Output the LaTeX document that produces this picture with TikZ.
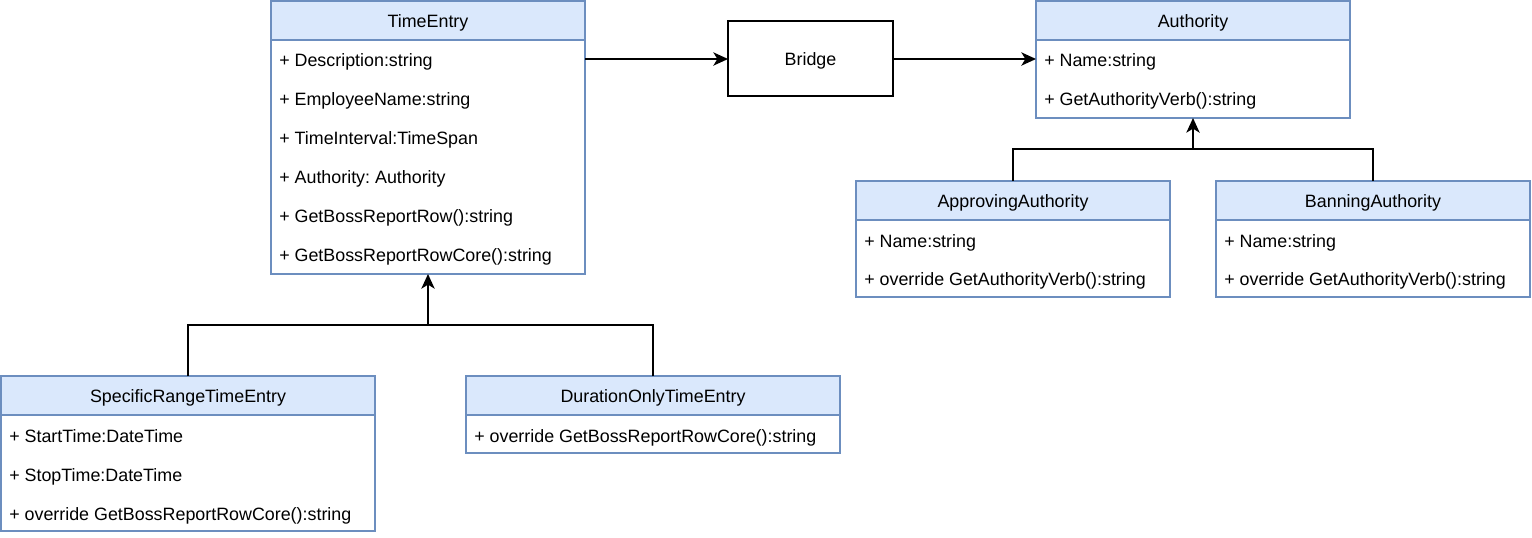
\documentclass[tikz,border=0pt]{standalone}
\usepackage{fontspec}
\setmainfont{Liberation Sans}
\usetikzlibrary{arrows.meta}
\definecolor{umlfill}{HTML}{DAE8FC}
\definecolor{umlline}{HTML}{6C8EBF}
\frenchspacing
\begin{document}
\begin{tikzpicture}[x=0.75pt,y=-0.75pt,
  every node/.style={font=\fontsize{13.4}{15}\selectfont, text height=13pt, text depth=2.5pt},
  hdr/.style={draw=umlline, line width=0.9pt, fill=umlfill, anchor=north west, inner sep=0pt, outer sep=0pt, minimum height=29.25pt},
  bodybox/.style={draw=umlline, line width=0.9pt, fill=white, anchor=north west, inner sep=0pt, outer sep=0pt},
  plainbox/.style={draw=black, line width=1pt, fill=white, anchor=north west, inner sep=0pt, outer sep=0pt},
  row/.style={anchor=west, inner sep=0pt},
  conn/.style={draw=black, line width=1.1pt, -{Stealth[length=11pt,width=10pt,inset=3pt]}},
  link/.style={draw=black, line width=1.1pt}]
\useasboundingbox (0,0) rectangle (1532,537);

% TimeEntry
\node[bodybox, minimum width=235.5pt, minimum height=175.5pt] (teb) at (271,40) {};
\node[hdr, minimum width=235.5pt] (te) at (271,1) {TimeEntry};
\node[row] (te1) at (279,59) {+ Description:string};
\node[row] (te2) at (279,98) {+ EmployeeName:string};
\node[row] (te3) at (279,137) {+ TimeInterval:TimeSpan};
\node[row] (te4) at (279,176) {+ Authority: Authority};
\node[row] (te5) at (279,215) {+ GetBossReportRow():string};
\node[row] (te6) at (279,254) {+ GetBossReportRowCore():string};

% Bridge
\node[plainbox, minimum width=123.75pt, minimum height=56.25pt] (br) at (728,21) {Bridge};

% Authority
\node[bodybox, minimum width=235.5pt, minimum height=58.5pt] (ab) at (1036,40) {};
\node[hdr, minimum width=235.5pt] (au) at (1036,1) {Authority};
\node[row] (au1) at (1044,59) {+ Name:string};
\node[row] (au2) at (1044,98) {+ GetAuthorityVerb():string};

% ApprovingAuthority
\node[bodybox, minimum width=235.5pt, minimum height=57.75pt] (aab) at (856,220) {};
\node[hdr, minimum width=235.5pt] (aa) at (856,181) {ApprovingAuthority};
\node[row] (aa1) at (864,240) {+ Name:string};
\node[row] (aa2) at (864,278) {+ override GetAuthorityVerb():string};

% BanningAuthority
\node[bodybox, minimum width=235.5pt, minimum height=57.75pt] (bab) at (1216,220) {};
\node[hdr, minimum width=235.5pt] (ba) at (1216,181) {BanningAuthority};
\node[row] (ba1) at (1224,240) {+ Name:string};
\node[row] (ba2) at (1224,278) {+ override GetAuthorityVerb():string};

% SpecificRangeTimeEntry
\node[bodybox, minimum width=280.5pt, minimum height=87pt] (srb) at (1,415) {};
\node[hdr, minimum width=280.5pt] (sr) at (1,376) {SpecificRangeTimeEntry};
\node[row] (sr1) at (9,435) {+ StartTime:DateTime};
\node[row] (sr2) at (9,474) {+ StopTime:DateTime};
\node[row] (sr3) at (9,513) {+ override GetBossReportRowCore():string};

% DurationOnlyTimeEntry
\node[bodybox, minimum width=280.5pt, minimum height=28.5pt] (dob) at (466,415) {};
\node[hdr, minimum width=280.5pt] (do) at (466,376) {DurationOnlyTimeEntry};
\node[row] (do1) at (474,435) {+ override GetBossReportRowCore():string};

% association connectors
\draw[conn] (te1 -| teb.east) -- (te1 -| br.west);
\draw[conn] (te1 -| br.east) -- (te1 -| ab.west);

% inheritance TimeEntry
\coordinate (jt) at (teb.south |- 0,325);
\draw[link] (do.north) |- (jt);
\draw[conn] (sr.north) |- (jt) -- (teb.south);

% inheritance Authority
\coordinate (ja) at (ab.south |- 0,149);
\draw[link] (ba.north) |- (ja);
\draw[conn] (aa.north) |- (ja) -- (ab.south);
\end{tikzpicture}
\end{document}
